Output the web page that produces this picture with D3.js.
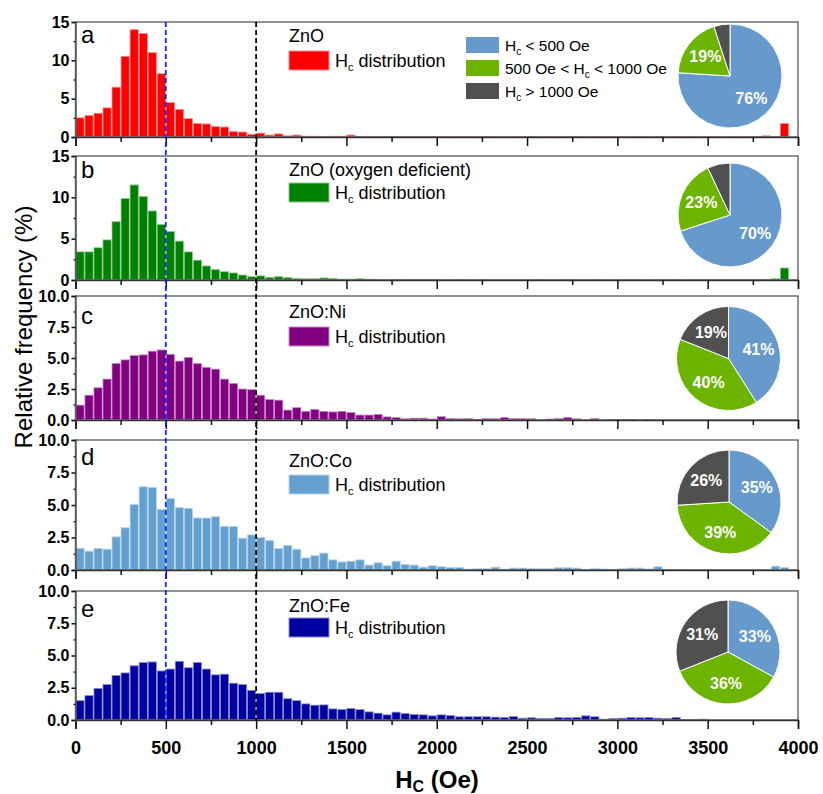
<!DOCTYPE html>
<html>
<head>
<meta charset="utf-8">
<script src="https://cdn.jsdelivr.net/npm/d3@7"></script>
<style>
body { margin: 0; background: #fff; }
svg { font-family: "Liberation Sans", Arial, sans-serif; }
</style>
</head>
<body>
<svg id="chart" width="823" height="794"></svg>
<script>
// ================= data (relative frequency %, 50 Oe bins, 0..4000) =================
const binWidth = 50;

const freqZnO = [
  2.5, 2.8, 3.1, 3.8, 6.5, 10.5, 14.0, 13.5, 11.0, 8.25,
  4.5, 3.6, 2.4, 1.75, 1.7, 1.35, 1.3, 0.7, 0.65, 0.35,
  0.5, 0.25, 0.4, 0.15, 0.25, 0.1, 0.1, 0.05, 0.1, 0.1,
  0.25, 0.05, 0.05, 0.05, 0.05, 0.05, 0.05, 0.05, 0.05, 0.05,
  0.05, 0.03, 0.05, 0.05, 0.03, 0.05, 0.05, 0.03, 0.05, 0.03,
  0.05, 0.03, 0.05, 0.03, 0.05, 0.05, 0.03, 0.05, 0.03, 0.05,
  0.05, 0.03, 0.05, 0.03, 0.05, 0.03, 0.05, 0.03, 0.05, 0.03,
  0.05, 0.03, 0.05, 0.03, 0.05, 0.03, 0.15, 0.05, 1.75, 0
];
const freqZnOdef = [
  3.4, 3.4, 3.9, 4.85, 7.05, 9.85, 11.5, 10.1, 8.35, 6.7,
  5.85, 4.7, 3.4, 2.4, 1.7, 1.25, 1.0, 0.85, 0.6, 0.4,
  0.5, 0.3, 0.4, 0.28, 0.2, 0.15, 0.15, 0.25, 0.2, 0.1,
  0.1, 0.15, 0.1, 0.05, 0.05, 0.05, 0.05, 0.05, 0.05, 0.05,
  0.05, 0.03, 0.05, 0.03, 0.05, 0.05, 0.03, 0.05, 0.03, 0.05,
  0.03, 0.05, 0.03, 0.05, 0.03, 0.03, 0.05, 0.03, 0.03, 0.05,
  0.03, 0.03, 0.05, 0.03, 0.03, 0.03, 0.05, 0.03, 0.03, 0.03,
  0.03, 0.03, 0.03, 0.03, 0.03, 0.05, 0.05, 0.15, 1.45, 0
];
const freqNi = [
  1.2, 2.0, 2.6, 3.3, 4.55, 4.85, 5.2, 5.25, 5.55, 5.65,
  5.3, 4.75, 5.05, 4.55, 4.25, 4.1, 3.3, 2.95, 2.5, 2.45,
  2.0, 1.65, 1.6, 0.8, 1.0, 0.7, 0.85, 0.7, 0.65, 0.7,
  0.6, 0.4, 0.4, 0.45, 0.25, 0.2, 0.1, 0.15, 0.15, 0.08,
  0.27, 0.13, 0.1, 0.12, 0.05, 0.12, 0.1, 0.2, 0.12, 0.12,
  0.1, 0, 0.08, 0.12, 0.2, 0.1, 0, 0.13, 0, 0.05,
  0.05, 0.05, 0, 0.03, 0, 0, 0, 0, 0, 0,
  0, 0, 0, 0, 0, 0, 0, 0, 0, 0
];
const freqCo = [
  1.67, 1.45, 1.65, 1.6, 2.55, 3.25, 5.05, 6.4, 6.35, 4.65,
  5.5, 4.8, 4.75, 4.0, 4.0, 4.1, 3.35, 3.35, 2.45, 2.7,
  2.5, 2.27, 1.65, 1.9, 1.6, 0.93, 1.1, 1.3, 0.78, 0.62,
  0.68, 0.78, 0.38, 0.55, 0.33, 0.68, 0.43, 0.38, 0.22, 0.33,
  0.25, 0.2, 0.2, 0.07, 0.1, 0.1, 0.22, 0.07, 0.15, 0.15,
  0.12, 0.1, 0.1, 0.18, 0.18, 0.15, 0.05, 0.12, 0.08, 0.05,
  0.1, 0.15, 0.15, 0.08, 0.25, 0.05, 0.05, 0.05, 0.03, 0.05,
  0.03, 0.03, 0.03, 0.03, 0.03, 0.03, 0.03, 0.3, 0.2, 0
];
const freqFe = [
  1.5, 1.9, 2.45, 2.75, 3.45, 3.65, 4.2, 4.45, 4.5, 3.8,
  3.95, 4.55, 4.05, 4.45, 3.95, 3.5, 3.55, 2.85, 2.75, 2.3,
  2.05, 2.15, 2.15, 1.65, 1.5, 1.25, 1.15, 1.17, 0.86, 0.81,
  0.89, 0.81, 0.63, 0.53, 0.4, 0.61, 0.5, 0.43, 0.4, 0.32,
  0.4, 0.35, 0.25, 0.25, 0.25, 0.25, 0.22, 0.19, 0.27, 0.14,
  0.17, 0.12, 0.12, 0.19, 0.17, 0.19, 0.32, 0.25, 0.06, 0.12,
  0.14, 0.19, 0.17, 0.19, 0.14, 0.12, 0.19, 0.04, 0.04, 0.06,
  0, 0, 0, 0, 0, 0, 0, 0, 0, 0
];

const panelSeries = [freqZnO, freqZnOdef, freqNi, freqCo, freqFe];
const panelNames = ['ZnO', 'ZnO (oxygen deficient)', 'ZnO:Ni', 'ZnO:Co', 'ZnO:Fe'];
const panelLetters = ['a', 'b', 'c', 'd', 'e'];
const barColors = ['#ff0000', '#008000', '#800080', '#63a0cf', '#0000a0'];
const yMaxes = [15, 15, 10, 10, 10];
const yTicksBig = [0, 5, 10, 15];
const yTicksSmall = [0, 2.5, 5, 7.5, 10];

// pie shares: Hc<500, 500<Hc<1000, Hc>1000
const pieShares = [[76, 19, 5], [70, 23, 7], [41, 40, 19], [35, 39, 26], [33, 36, 31]];
const pieColors = ['#6699cc', '#6cb400', '#505050'];
const pieLegend = [['H', 'c', ' < 500 Oe'], ['500 Oe < H', 'c', ' < 1000 Oe'], ['H', 'c', ' > 1000 Oe']];

const xTicks = [0, 500, 1000, 1500, 2000, 2500, 3000, 3500, 4000];
const xMinorTicks = [250, 750, 1250, 1750, 2250, 2750, 3250, 3750];
const markerLines = [500, 1000];

// ================= layout =================
const panelBox = [
  {top: 22, bottom: 137, letterY: 43, nameY: 42, swY: 51},
  {top: 156, bottom: 280, letterY: 178, nameY: 176, swY: 183},
  {top: 296, bottom: 420, letterY: 324, nameY: 318, swY: 327},
  {top: 440, bottom: 570, letterY: 465, nameY: 467, swY: 475},
  {top: 591, bottom: 720, letterY: 617, nameY: 612, swY: 618}
];
const pieCenter = [[730, 76], [730, 215], [728.5, 358.5], [729, 502], [728, 652]];
const pieR = 52;
const left = 75.5, right = 798;
const fontStack = '"Liberation Sans", Arial, sans-serif';

const svg = d3.select('#chart');

var x = d3.scaleLinear().domain([0, 4000]).range([left, right]);

function hcText(sel, parts, subSize) {
  sel.append('tspan').text(parts[0]);
  sel.append('tspan').attr('dy', 4).attr('font-size', subSize).text(parts[1]);
  sel.append('tspan').attr('dy', -4).text(parts[2]);
}

panelSeries.forEach(function(series, p) {
  const box = panelBox[p];
  const y = d3.scaleLinear().domain([0, yMaxes[p]]).range([box.bottom, box.top]);
  const g = svg.append('g');
  const col = barColors[p];
  const edge = d3.interpolateRgb(col, '#ffffff')(0.55);

  //======bars======
  g.selectAll('rect.bar')
    .data(series.map(function(v, i) { return {i: i, v: v}; }).filter(function(d) { return d.v > 0; }))
    .enter()
    .append('rect')
    .attr('class', 'bar')
    .attr('x', function(d) { return x(d.i * binWidth) + 0.4; })
    .attr('y', function(d) { return y(d.v); })
    .attr('width', x(binWidth) - x(0) - 0.8)
    .attr('height', function(d) { return y(0) - y(d.v); })
    .attr('fill', col)
    .attr('stroke', edge)
    .attr('stroke-width', 0.8);

  //======frame======
  g.append('rect')
    .attr('x', left).attr('y', box.top)
    .attr('width', right - left).attr('height', box.bottom - box.top)
    .attr('fill', 'none').attr('stroke', '#6e6e6e').attr('stroke-width', 1.5);

  //======x axis======
  const xa = g.append('g').attr('transform', 'translate(0,' + box.bottom + ')')
    .call(d3.axisBottom(x).tickValues(xTicks).tickSize(9).tickPadding(12)
      .tickFormat(p === 4 ? d3.format('d') : ''));
  xa.select('.domain').attr('stroke', '#333').attr('stroke-width', 1.5);
  xa.selectAll('.tick line').attr('stroke', '#111').attr('stroke-width', 1.5);
  xa.selectAll('text').attr('font-size', 18).attr('font-weight', 'bold').attr('fill', '#000')
    .attr('font-family', fontStack);
  const xm = g.append('g').attr('transform', 'translate(0,' + box.bottom + ')')
    .call(d3.axisBottom(x).tickValues(xMinorTicks).tickSize(5).tickFormat(''));
  xm.select('.domain').remove();
  xm.selectAll('.tick line').attr('stroke', '#111').attr('stroke-width', 1.5);

  //======y axis======
  const big = yMaxes[p] === 15;
  const yt = big ? yTicksBig : yTicksSmall;
  const ya = g.append('g').attr('transform', 'translate(' + left + ',0)')
    .call(d3.axisLeft(y).tickValues(yt).tickSize(4).tickPadding(2)
      .tickFormat(big ? d3.format('d') : d3.format('.1f')));
  ya.select('.domain').attr('stroke', '#555').attr('stroke-width', 1.5);
  ya.selectAll('.tick line').attr('stroke', '#111').attr('stroke-width', 1.5);
  ya.selectAll('text').attr('font-size', 16).attr('font-weight', 'bold').attr('fill', '#000')
    .attr('font-family', fontStack);
  const yMinor = yt.slice(0, -1).map(function(t, i) { return (t + yt[i + 1]) / 2; });
  const ym = g.append('g').attr('transform', 'translate(' + left + ',0)')
    .call(d3.axisLeft(y).tickValues(yMinor).tickSize(2).tickFormat(''));
  ym.select('.domain').remove();
  ym.selectAll('.tick line').attr('stroke', '#111').attr('stroke-width', 1.2);

  //======letter + legend======
  g.append('text').attr('x', 81).attr('y', box.letterY)
    .attr('font-size', 24).text(panelLetters[p]);
  g.append('text').attr('x', 289).attr('y', box.nameY)
    .attr('font-size', 18).text(panelNames[p]);
  g.append('rect').attr('x', 289).attr('y', box.swY).attr('width', 40).attr('height', 19)
    .attr('fill', col).attr('stroke', edge).attr('stroke-width', 1);
  hcText(g.append('text').attr('x', 335).attr('y', box.swY + 16).attr('font-size', 18),
    ['H', 'c', ' distribution'], 11);

  //======pie======
  const pieData = d3.pie().sort(null)(pieShares[p]);
  const arc = d3.arc().innerRadius(0).outerRadius(pieR);
  const labelArc = d3.arc().innerRadius(pieR * 0.6).outerRadius(pieR * 0.6);
  const pg = g.append('g').attr('transform', 'translate(' + pieCenter[p][0] + ',' + pieCenter[p][1] + ')');
  pg.selectAll('path').data(pieData).enter().append('path')
    .attr('d', arc)
    .attr('fill', function(d, i) { return pieColors[i]; })
    .attr('stroke', '#fff').attr('stroke-width', 1);
  pg.selectAll('text').data(pieData.filter(function(d) { return d.data >= 10; })).enter().append('text')
    .attr('transform', function(d) { return 'translate(' + labelArc.centroid(d) + ')'; })
    .attr('text-anchor', 'middle').attr('dy', '0.35em')
    .attr('font-size', 16).attr('font-weight', 'bold').attr('fill', '#fff')
    .text(function(d) { return d.data + '%'; });
});

//======pie legend (panel a)======
pieLegend.forEach(function(parts, i) {
  svg.append('rect').attr('x', 466).attr('y', 37 + i * 23).attr('width', 33).attr('height', 16)
    .attr('fill', pieColors[i]);
  hcText(svg.append('text').attr('x', 505).attr('y', 51 + i * 23).attr('font-size', 15.5), parts, 10);
});

//======dashed markers======
markerLines.forEach(function(v, i) {
  svg.append('line')
    .attr('x1', x(v)).attr('x2', x(v))
    .attr('y1', panelBox[0].top).attr('y2', panelBox[4].bottom)
    .attr('stroke', i === 0 ? '#0a2bff' : '#000')
    .attr('stroke-width', 1.8)
    .attr('stroke-dasharray', '5,3');
});

//======axis titles======
svg.append('text')
  .attr('transform', 'translate(32,' + 327 + ') rotate(-90)')
  .attr('text-anchor', 'middle').attr('font-size', 24)
  .text('Relative frequency (%)');
const xt = svg.append('text').attr('x', 437).attr('y', 788)
  .attr('text-anchor', 'middle').attr('font-size', 24).attr('font-weight', 'bold');
hcText(xt, ['H', 'C', ' (Oe)'], 16);
</script>
</body>
</html>
